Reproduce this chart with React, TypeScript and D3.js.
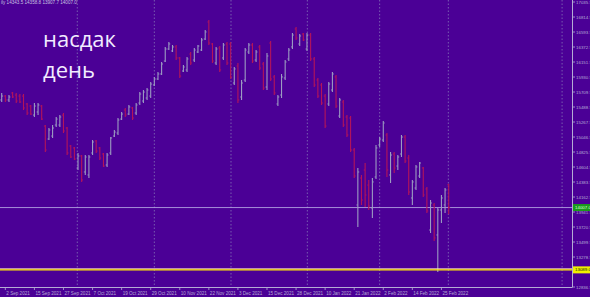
import React from 'react';
import * as d3 from 'd3';

// Daily OHLC bars, 1 Sep 2021 .. 1 Mar 2022 (124 bars)
const opens = [
  15592,15650,15592,15695,15665,15650,15650,15533,15503,15370,
  15415,15503,15208,15017,15061,15223,15223,15370,15179,14914,
  14885,14590,14767,14531,14487,14811,14988,14885,14796,14634,
  14811,15061,15105,15311,15444,15385,15474,15400,15547,15577,
  15621,15650,15813,15901,15975,16166,16343,16314,16373,16211,
  16019,16034,16269,16181,16299,16328,16490,16741,16417,16137,
  16358,16211,16417,16417,15842,16093,15636,15886,16299,16402,
  16181,16373,16122,15783,16431,15931,15533,15665,15916,16196,
  16373,16638,16417,16564,16343,16549,16196,15886,15813,15650,
  15533,15739,15931,15356,15562,15341,15326,14855,14045,14442,
  14560,14339,14001,14457,14929,15002,15076,14487,14796,14619,
  14796,15046,14737,14148,14295,14472,14590,14281,13676,14045,
  13603,13971,14045,14343.5,
];
const highs = [
  15695,15665,15665,15709,15695,15680,15680,15547,15518,15547,
  15547,15518,15223,15179,15223,15341,15370,15400,15194,14929,
  14899,14811,14781,14781,14781,15002,15002,14899,14811,14811,
  15046,15150,15326,15415,15474,15518,15489,15547,15709,15739,
  15768,15857,15931,16004,16152,16373,16446,16402,16402,16225,
  16107,16225,16299,16358,16402,16505,16623,16770,16431,16373,
  16387,16431,16446,16446,16078,16137,15886,16358,16431,16431,
  16328,16402,16152,16284,16461,15960,15665,15975,16181,16358,
  16579,16667,16564,16579,16579,16579,16225,15916,15842,15680,
  15857,16004,15960,15621,15592,15370,15356,14885,14590,14487,
  14663,14413,14442,14929,15046,15282,15105,14826,14826,14781,
  15076,15076,14781,14413,14634,14678,14605,14310,14118,14074,
  14001,14192,14295,14358.8,
];
const lows = [
  15562,15562,15562,15621,15547,15547,15444,15370,15370,15341,
  15370,15297,14826,15002,15032,15194,15194,15105,14781,14737,
  14708,14560,14384,14487,14442,14781,14811,14708,14605,14605,
  14781,15046,15076,15297,15341,15370,15297,15370,15518,15547,
  15592,15621,15798,15886,15960,16152,16328,16299,16181,15916,
  16004,16004,16107,16152,16284,16314,16476,16402,16137,16107,
  16004,16181,16107,15901,15813,15547,15592,15857,16269,16137,
  16152,16034,15739,15739,15872,15665,15503,15621,15886,16166,
  16343,16476,16387,16461,16314,16166,15783,15621,15518,15179,
  15503,15709,15474,15326,15194,15046,14826,14442,13720,14045,
  14015,13971,13853,14428,14899,14973,14457,14369,14516,14560,
  14752,14663,14192,14045,14266,14442,14163,13927,13632,13515,
  13057,13779,13927,13907.7,
];
const closes = [
  15650,15592,15636,15636,15577,15562,15474,15400,15385,15503,
  15518,15311,14855,15150,15179,15311,15341,15135,14811,14752,
  14722,14767,14413,14752,14752,14973,14840,14737,14619,14781,
  15032,15120,15297,15385,15370,15489,15326,15518,15680,15709,
  15739,15827,15901,15975,16122,16343,16417,16373,16211,15945,
  16078,16196,16137,16328,16387,16476,16594,16431,16166,16343,
  16034,16402,16137,15931,16049,15592,15842,16328,16402,16166,
  16299,16063,15768,16240,15901,15695,15636,15931,16152,16328,
  16549,16505,16535,16476,16549,16196,15813,15650,15547,15208,
  15827,15975,15503,15592,15223,15076,14855,14472,14531,14118,
  14192,14030,14384,14885,15017,15253,14560,14781,14590,14752,
  15046,14693,14236,14384,14605,14663,14192,13957,14074,13559,
  13971,14148,14266,14007.0,
];

const dateLabels = [
  '2 Sep 2021','15 Sep 2021','27 Sep 2021','7 Oct 2021','19 Oct 2021','29 Oct 2021',
  '10 Nov 2021','22 Nov 2021','3 Dec 2021','15 Dec 2021','28 Dec 2021','10 Jan 2022',
  '21 Jan 2022','2 Feb 2022','14 Feb 2022','25 Feb 2022',
];
const dateLabelBars = [1,9,17,25,33,41,49,57,65,73,81,89,97,105,113,121];
const monthGridBars = [20.8, 42, 63.1, 84.1, 104, 122.9, 154.2];

const priceTicks = [
  12836.5,13057.5,13278.5,13499.5,13720.5,13941.5,14162.5,14383.5,14604.5,14825.5,
  15046.5,15267.5,15488.5,15709.5,15930.5,16151.5,16372.5,16593.5,16814.5,17035.5,
];
const lastPrice = 14007.0;
const levelPrice = 13089.0;
const headerText = 'ily  14343.5 14358.8 13907.7 14007.0';
const titleLines = ['насдак', 'день'];

const BG = '#4b0096';
const BULL = '#9c9cc2';
const BEAR = '#b4145a';
const AXIS = '#b4acd4';
const SMALL_FONT = 'Liberation Sans, Arial, sans-serif';

export default function App() {
  const plotRight = 572;
  const plotBottom = 287;
  const x = d3.scaleLinear().domain([0, 123]).range([1.7, 448.7]);
  const y = d3.scaleLinear().domain([12836.5, 17035.5]).range([287, 2]);
  const visibleTicks = priceTicks.filter((p) => Math.abs(y(p) - y(levelPrice)) > 5);

  return (
    <svg width={590} height={297} style={{ position: 'absolute', left: 0, top: 0, display: 'block' }}>
      <rect x={0} y={0} width={590} height={297} fill={BG} />

      {/* vertical grid */}
      {monthGridBars.map((b, k) => (
        <line key={'g' + k} x1={x(b)} x2={x(b)} y1={0} y2={plotBottom}
          stroke="#8474b8" strokeWidth={0.8} strokeDasharray="1.5,2" />
      ))}

      {/* header */}
      <text x={1} y={4} fontSize={4.6} fill="#c8c0e0" fontFamily={SMALL_FONT}>{headerText}</text>

      {/* title */}
      {titleLines.map((t, k) => (
        <text key={'t' + k} x={43} y={47 + k * 31} fontSize={22} fill="#f2ecff"
          fontFamily="Open Sans, Noto Sans, sans-serif">{t}</text>
      ))}

      {/* last price line */}
      <line x1={0} x2={plotRight} y1={y(lastPrice)} y2={y(lastPrice)} stroke="#b09ee0" strokeWidth={0.9} />

      {/* bars */}
      {opens.map((o, i) => {
        const c = closes[i];
        const col = c >= o ? BULL : BEAR;
        const cx = x(i);
        return (
          <g key={'b' + i} stroke={col} strokeWidth={1.1}>
            <line x1={cx} x2={cx} y1={y(highs[i])} y2={y(lows[i])} />
            <line x1={cx - 1.4} x2={cx} y1={y(o)} y2={y(o)} strokeWidth={0.9} />
            <line x1={cx} x2={cx + 1.4} y1={y(c)} y2={y(c)} strokeWidth={0.9} />
          </g>
        );
      })}

      {/* level line */}
      <line x1={0} x2={plotRight} y1={y(levelPrice) - 1} y2={y(levelPrice) - 1} stroke="#ffe6c0" strokeWidth={1} />
      <line x1={0} x2={plotRight} y1={y(levelPrice)} y2={y(levelPrice)} stroke="#ffee00" strokeWidth={1.2} />

      {/* axes frame */}
      <line x1={plotRight + 0.5} x2={plotRight + 0.5} y1={0} y2={plotBottom} stroke={AXIS} strokeWidth={1} />
      <line x1={0} x2={plotRight + 0.5} y1={plotBottom + 0.5} y2={plotBottom + 0.5} stroke={AXIS} strokeWidth={1} />

      {/* price axis */}
      {visibleTicks.map((p, k) => (
        <g key={'p' + k}>
          <line x1={plotRight} x2={plotRight + 3} y1={y(p)} y2={y(p)} stroke={AXIS} strokeWidth={0.8} />
          <text x={plotRight + 4} y={y(p)} dy="0.35em" fontSize={4.4} fill={AXIS} fontFamily={SMALL_FONT}>
            {p.toFixed(1)}
          </text>
        </g>
      ))}

      {/* price labels */}
      <rect x={plotRight + 1} y={y(lastPrice) - 3.5} width={18} height={7} fill="#1a9a1a" />
      <text x={plotRight + 3} y={y(lastPrice)} dy="0.35em" fontSize={4.4} fill="#d8ffd8" fontFamily={SMALL_FONT}>
        {lastPrice.toFixed(1)}
      </text>
      <rect x={plotRight + 1} y={y(levelPrice) - 3.5} width={18} height={7} fill="#f0f000" />
      <text x={plotRight + 3} y={y(levelPrice)} dy="0.35em" fontSize={4.4} fill="#202000" fontFamily={SMALL_FONT}>
        {levelPrice.toFixed(1)}
      </text>

      {/* time axis */}
      {dateLabels.map((d, k) => (
        <g key={'d' + k}>
          <line x1={x(dateLabelBars[k])} x2={x(dateLabelBars[k])} y1={plotBottom} y2={plotBottom + 3}
            stroke={AXIS} strokeWidth={0.8} />
          <text x={x(dateLabelBars[k]) + 1} y={295} fontSize={4.6} fill={AXIS} fontFamily={SMALL_FONT}>{d}</text>
        </g>
      ))}
    </svg>
  );
}
